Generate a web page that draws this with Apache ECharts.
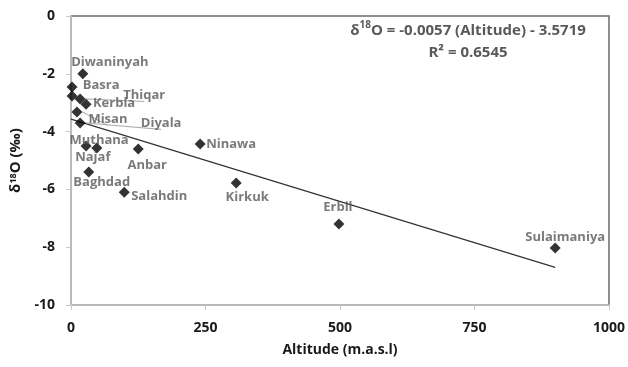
<!DOCTYPE html>
<html>
<head>
<meta charset="utf-8">
<script src="https://cdn.jsdelivr.net/npm/echarts@6/dist/echarts.min.js"></script>
<style>
html,body{margin:0;padding:0;background:#fff;}
#chart{width:628px;height:367px;}
</style>
</head>
<body>
<div id="chart"></div>
<script>
// ---- data ----
var stations = ['Diwaninyah','Basra','','Thiqar','Kerbla','Misan','Diyala','Muthana','Najaf','Anbar','Ninawa','Baghdad','Salahdin','Kirkuk','Erbil','Sulaimaniya'];
var altitude = [22, 2, 2, 17, 28, 11, 17, 28, 48, 125, 240, 33, 99, 307, 498, 900];
var d18O = [-2.0, -2.46, -2.77, -2.87, -3.05, -3.32, -3.7, -4.5, -4.57, -4.6, -4.43, -5.4, -6.1, -5.78, -7.2, -8.03];
var trendX = [0, 900];
var trendY = [-3.57, -8.70];
var xTicks = [0, 250, 500, 750, 1000];
var yTicks = [0, -2, -4, -6, -8, -10];
var equationText = '= -0.0057 (Altitude) - 3.5719';
var r2Text = 'R² = 0.6545';

// ---- label placement (styling) ----
var labelOffsets = {
  'Diwaninyah':[27,-12], 'Basra':[29,-2], 'Thiqar':[64,-4], 'Kerbla':[28,-1],
  'Misan':[31,7], 'Diyala':[81,0], 'Muthana':[13,-6], 'Najaf':[-4,9],
  'Anbar':[9,16], 'Ninawa':[31,0], 'Baghdad':[13,10], 'Salahdin':[35,4],
  'Kirkuk':[11,14], 'Erbil':[-1,-17], 'Sulaimaniya':[10,-11]
};
var leaderLabels = {'Thiqar':true, 'Misan':true, 'Diyala':true};

var FONT = '"Open Sans", "Noto Sans", sans-serif';

var pts = altitude.map(function(a, i){
  var name = stations[i];
  var item = {value:[a, d18O[i]], name:name};
  if (name && labelOffsets[name]) {
    item.label = {show:true, position:'inside', offset:labelOffsets[name], formatter:name,
      color:'#595959', fontSize:13, fontWeight:'bold', fontFamily:FONT};
    if (leaderLabels[name]) {
      item.labelLine = {show:true, lineStyle:{color:'#a6a6a6', width:1}};
    }
  } else {
    item.label = {show:false};
  }
  return item;
});

var chart = echarts.init(document.getElementById('chart'), null, {renderer:'canvas'});
chart.setOption({
  animation:false,
  backgroundColor:'#fff',
  grid:{left:71, right:19, top:16, bottom:62, show:true, borderColor:'#6b6b6b', borderWidth:1.5},
  xAxis:{
    type:'value', min:xTicks[0], max:xTicks[xTicks.length-1], interval:250,
    name:'Altitude (m.a.s.l)', nameLocation:'middle', nameGap:38,
    nameTextStyle:{fontSize:14, fontWeight:'bold', color:'#1a1a1a', fontFamily:FONT},
    axisLine:{show:true, lineStyle:{color:'#c8c8c8', width:1.5}, onZero:false},
    axisTick:{show:true, length:5, inside:false, lineStyle:{color:'#c8c8c8'}},
    axisLabel:{fontSize:14, fontWeight:'bold', color:'#1a1a1a', margin:16, fontFamily:FONT,
      formatter:function(v){return String(v);}},
    splitLine:{show:false}
  },
  yAxis:{
    type:'value', min:yTicks[yTicks.length-1], max:yTicks[0], interval:2,
    name:'{a|δ}{s|18}{a|O (‰)}', nameLocation:'middle', nameGap:47, nameRotate:90,
    nameTextStyle:{rich:{
      a:{fontSize:15, fontWeight:'bold', color:'#1a1a1a', fontFamily:FONT},
      s:{fontSize:9, fontWeight:'bold', color:'#1a1a1a', fontFamily:FONT, verticalAlign:'top', padding:[0,0,6,0]}
    }},
    axisLine:{show:true, lineStyle:{color:'#c8c8c8', width:1.5}, onZero:false},
    axisTick:{show:true, length:5, inside:false, lineStyle:{color:'#c8c8c8'}},
    axisLabel:{fontSize:14, fontWeight:'bold', color:'#1a1a1a', margin:16, fontFamily:FONT},
    splitLine:{show:false}
  },
  graphic:[
    {type:'text', x:468, y:20, z:10, style:{
      text:'{a|δ}{s|18}{a|O ' + equationText + '}\n{a|' + r2Text + '}',
      rich:{
        a:{fontSize:15, fontWeight:'bold', fill:'#595959', fontFamily:FONT, lineHeight:22},
        s:{fontSize:10, fontWeight:'bold', fill:'#595959', fontFamily:FONT, verticalAlign:'top', lineHeight:22}
      },
      align:'center', verticalAlign:'top'
    }}
  ],
  series:[
    {
      type:'line', data:trendX.map(function(x,i){return [x, trendY[i]];}),
      symbol:'none', lineStyle:{color:'#333', width:1.2}, z:2, silent:true
    },
    {
      type:'scatter', data:pts, symbol:'diamond', symbolSize:11,
      itemStyle:{color:'#000'}, z:3
    }
  ]
});
</script>
</body>
</html>
